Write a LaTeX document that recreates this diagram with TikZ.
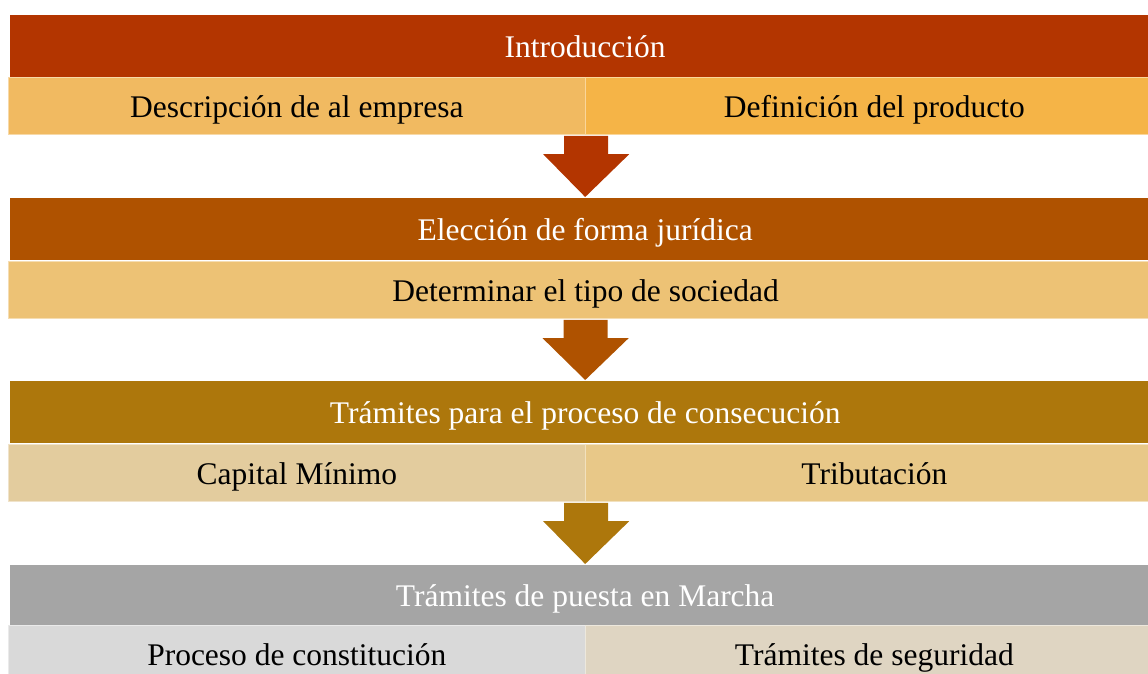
\documentclass[tikz,border=0pt]{standalone}
\usepackage{fontspec}
\setmainfont{Liberation Serif}
\usetikzlibrary{calc}
\definecolor{hA}{RGB}{179,53,0}
\definecolor{hB}{RGB}{175,82,0}
\definecolor{hC}{RGB}{173,119,12}
\definecolor{hD}{RGB}{165,165,165}
\definecolor{sAl}{RGB}{241,186,97}
\definecolor{sAr}{RGB}{245,180,71}
\definecolor{sB}{RGB}{237,194,117}
\definecolor{sCl}{RGB}{227,204,158}
\definecolor{sCr}{RGB}{232,200,136}
\definecolor{sDl}{RGB}{217,217,217}
\definecolor{sDr}{RGB}{223,213,194}
\begin{document}
\begin{tikzpicture}[x=1pt,y=-1pt,
  hbar/.style={rectangle,anchor=north west,inner sep=0pt,minimum width=1150pt,minimum height=62pt,text=white,font=\fontsize{31.5}{36}\selectfont,text height=22pt,text depth=0pt},
  sbar/.style={rectangle,anchor=north west,inner sep=0pt,minimum height=57pt,text=black,font=\fontsize{31.5}{36}\selectfont,text height=22pt,text depth=0pt,draw=#1!55!white,line width=1.2pt,fill=#1},
  blockarrow/.style={fill=#1}
]
\useasboundingbox (0,0) rectangle (1148,674);
% row 1
\node[hbar,fill=hA] (h1) at (10,15) {Introducción};
\node[sbar=sAl,minimum width=577.5pt] (s1l) at (7.5,77) {Descripción de al empresa};
\node[sbar=sAr,minimum width=577.5pt] (s1r) at (585,77) {Definición del producto};
% row 2
\node[hbar,fill=hB] (h2) at (10,198) {Elección de forma jurídica};
\node[sbar=sB,minimum width=1155pt] (s2) at (7.5,261) {Determinar el tipo de sociedad};
% row 3
\node[hbar,fill=hC] (h3) at (10,381) {Trámites para el proceso de consecución};
\node[sbar=sCl,minimum width=577.5pt] (s3l) at (7.5,444) {Capital Mínimo};
\node[sbar=sCr,minimum width=577.5pt] (s3r) at (585,444) {Tributación};
% row 4
\node[hbar,fill=hD,minimum height=60pt] (h4) at (10,565) {Trámites de puesta en Marcha};
\node[sbar=sDl,minimum width=577.5pt] (s4l) at (7.5,625) {Proceso de constitución};
\node[sbar=sDr,minimum width=577.5pt] (s4r) at (585,625) {Trámites de seguridad};
% arrows
\coordinate (a1) at (s1l.south east);
\coordinate (a2) at (s2.south);
\coordinate (a3) at (s3l.south east);
\fill[blockarrow=hA] ($(a1)+(-22,0.6)$) -- ($(a1)+(22,0.6)$) -- ($(a1)+(22,19)$) -- ($(a1)+(43,19)$) -- ($(h2.north)+(0,-1)$) -- ($(a1)+(-43,19)$) -- ($(a1)+(-22,19)$) -- cycle;
\fill[blockarrow=hB] ($(a2)+(-22,0.6)$) -- ($(a2)+(22,0.6)$) -- ($(a2)+(22,19)$) -- ($(a2)+(43,19)$) -- ($(h3.north)+(0,-1)$) -- ($(a2)+(-43,19)$) -- ($(a2)+(-22,19)$) -- cycle;
\fill[blockarrow=hC] ($(a3)+(-22,0.6)$) -- ($(a3)+(22,0.6)$) -- ($(a3)+(22,19)$) -- ($(a3)+(43,19)$) -- ($(h4.north)+(0,-1)$) -- ($(a3)+(-43,19)$) -- ($(a3)+(-22,19)$) -- cycle;
\end{tikzpicture}
\end{document}
